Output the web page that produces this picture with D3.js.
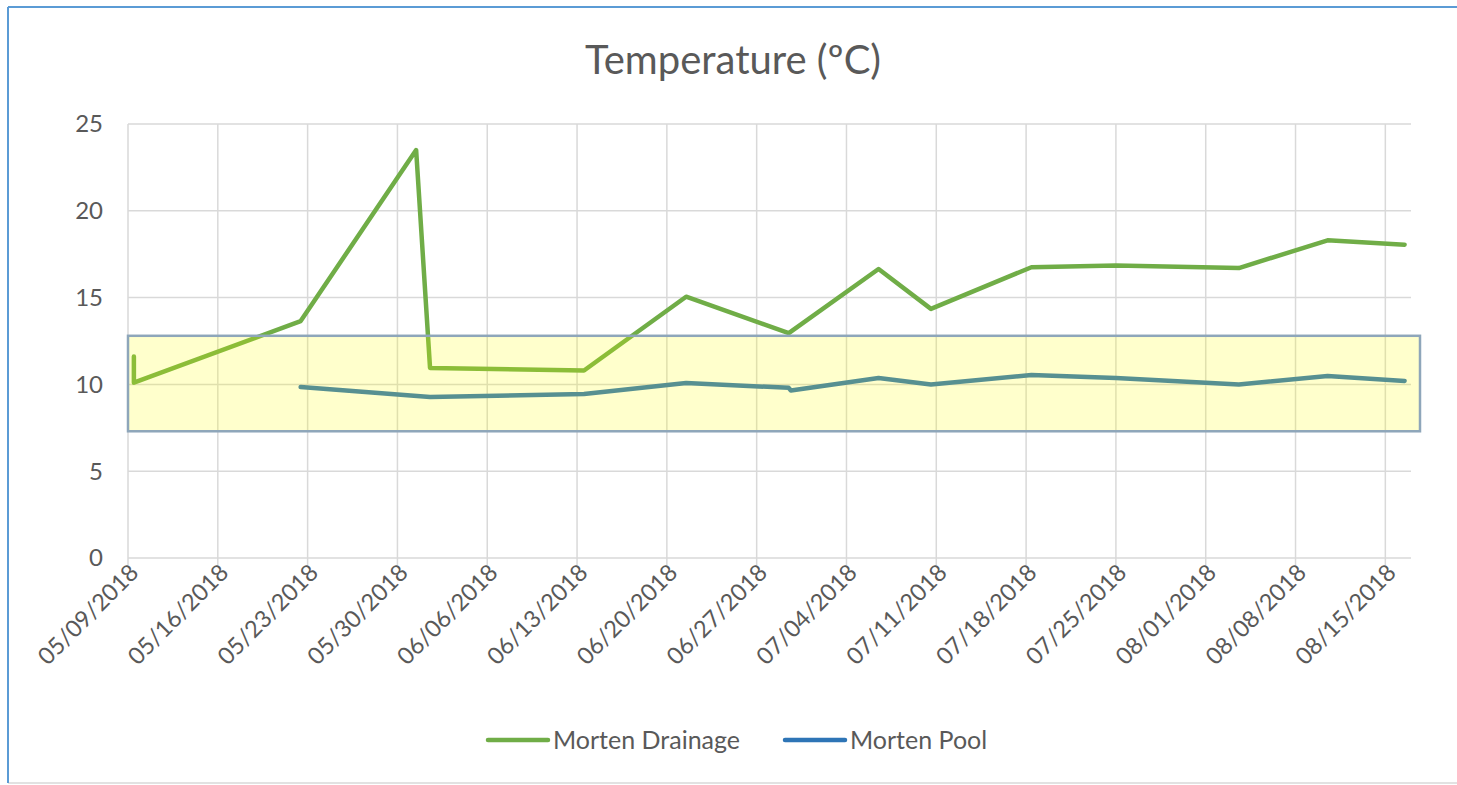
<!DOCTYPE html>
<html>
<head>
<meta charset="utf-8">
<script src="https://cdn.jsdelivr.net/npm/d3@7"></script>
<style>
    body { margin: 0; background: #fff; }
    text { font-family: Lato, "Open Sans", sans-serif; fill: #595959; }
</style>
</head>
<body>
<svg id="chart" width="1457" height="785"></svg>
<script>
// ----- data
const drainDates = ['2018-05-09 11:00', '2018-05-09 11:00', '2018-05-22 11:00', '2018-05-31 11:00', '2018-06-01 13:00',
    '2018-06-13 13:00', '2018-06-21 12:00', '2018-06-29 12:00', '2018-07-06 12:00', '2018-07-10 14:00',
    '2018-07-18 10:00', '2018-07-25 00:00', '2018-08-03 14:00', '2018-08-10 12:00', '2018-08-16 12:00'];
const drainTemps = [11.6, 10.1, 13.65, 23.5, 10.95, 10.8, 15.05, 12.95, 16.65, 14.35, 16.75, 16.85, 16.7, 18.3, 18.05];

const poolDates = ['2018-05-22 11:00', '2018-06-01 13:00', '2018-06-13 13:00', '2018-06-21 12:00', '2018-06-29 12:00',
    '2018-06-29 16:00', '2018-07-06 12:00', '2018-07-10 14:00', '2018-07-18 10:00', '2018-07-25 00:00',
    '2018-08-03 14:00', '2018-08-10 12:00', '2018-08-16 12:00'];
const poolTemps = [9.85, 9.27, 9.45, 10.08, 9.8, 9.65, 10.37, 10.0, 10.54, 10.37, 10.0, 10.48, 10.2];

const xTickDates = ['2018-05-09', '2018-05-16', '2018-05-23', '2018-05-30', '2018-06-06', '2018-06-13', '2018-06-20',
    '2018-06-27', '2018-07-04', '2018-07-11', '2018-07-18', '2018-07-25', '2018-08-01', '2018-08-08', '2018-08-15'];
const yTicks = [0, 5, 10, 15, 20, 25];
const xDomain = ['2018-05-09', '2018-08-17'];
const bandTemps = [7.3, 12.8]; // highlighted range
const seriesNames = ['Morten Drainage', 'Morten Pool'];
const seriesColors = ['#70ad47', '#2e75b6'];

const parseTime = d3.timeParse('%Y-%m-%d %H:%M');
const parseDay = d3.timeParse('%Y-%m-%d');
const fmt = d3.timeFormat('%m/%d/%Y');

const svg = d3.select('#chart');

// chart frame (the right side is cut off in the picture)
svg.append('line').attr('x1', 8).attr('x2', 1457).attr('y1', 783).attr('y2', 783)
    .attr('stroke', '#d9d9d9').attr('stroke-width', 1.5);
svg.append('line').attr('x1', 8).attr('x2', 1457).attr('y1', 7).attr('y2', 7)
    .attr('stroke', '#5b9bd5').attr('stroke-width', 2);
svg.append('line').attr('x1', 8).attr('x2', 8).attr('y1', 7).attr('y2', 783)
    .attr('stroke', '#5b9bd5').attr('stroke-width', 2);

const x = d3.scaleTime().domain(xDomain.map(parseDay)).range([128, 1411]);
const y = d3.scaleLinear().domain([0, 25]).range([558, 124]);

// ----- grid
svg.append('g').selectAll('line').data(yTicks.slice(1)).join('line')
    .attr('x1', 128).attr('x2', 1411)
    .attr('y1', d => y(d)).attr('y2', d => y(d))
    .attr('stroke', '#d9d9d9').attr('stroke-width', 1.5);
svg.append('g').selectAll('line').data(xTickDates).join('line')
    .attr('x1', d => x(parseDay(d))).attr('x2', d => x(parseDay(d)))
    .attr('y1', y(25)).attr('y2', y(0) + 7)
    .attr('stroke', '#d9d9d9').attr('stroke-width', 1.5);
svg.append('line').attr('x1', 128).attr('x2', 1411).attr('y1', y(0)).attr('y2', y(0))
    .attr('stroke', '#d9d9d9').attr('stroke-width', 1.5);

// ----- y labels
svg.append('g').selectAll('text').data(yTicks).join('text')
    .attr('x', 103).attr('y', d => y(d)).attr('dy', '0.35em')
    .attr('text-anchor', 'end').attr('font-size', 24)
    .text(d => d);

// ----- x labels
svg.append('g').selectAll('text').data(xTickDates).join('text')
    .attr('transform', d => `translate(${x(parseDay(d)) + 12},${y(0) + 16}) rotate(-45)`)
    .attr('text-anchor', 'end').attr('font-size', 23.5)
    .text(d => fmt(parseDay(d)));

// ----- lines
const line = d3.line().x(d => x(d[0])).y(d => y(d[1]));
const drain = drainDates.map((d, i) => [parseTime(d), drainTemps[i]]);
const pool = poolDates.map((d, i) => [parseTime(d), poolTemps[i]]);

[drain, pool].forEach((data, i) => {
    svg.append('path').datum(data)
        .attr('d', line)
        .attr('fill', 'none')
        .attr('stroke', seriesColors[i])
        .attr('stroke-width', 4.5)
        .attr('stroke-linejoin', 'round')
        .attr('stroke-linecap', 'round');
});

// ----- highlight band, drawn over the lines
svg.append('rect')
    .attr('x', x.range()[0]).attr('width', x.range()[1] - x.range()[0] + 9)
    .attr('y', y(bandTemps[1])).attr('height', y(bandTemps[0]) - y(bandTemps[1]))
    .attr('fill', 'rgba(255,255,0,0.2)')
    .attr('stroke', '#8ea6ba').attr('stroke-width', 2.5);

// ----- title
svg.append('text').attr('x', 733).attr('y', 74).attr('text-anchor', 'middle')
    .attr('font-size', 40).text('Temperature (ºC)');

// ----- legend
const legendX = [488, 785];
seriesNames.forEach((name, i) => {
    const g = svg.append('g').attr('transform', `translate(${legendX[i]},740)`);
    g.append('line').attr('x1', 0).attr('x2', 60)
        .attr('stroke', seriesColors[i]).attr('stroke-width', 4.5).attr('stroke-linecap', 'round');
    g.append('text').attr('x', 65).attr('dy', '0.35em').attr('font-size', 25).text(name);
});
</script>
</body>
</html>
